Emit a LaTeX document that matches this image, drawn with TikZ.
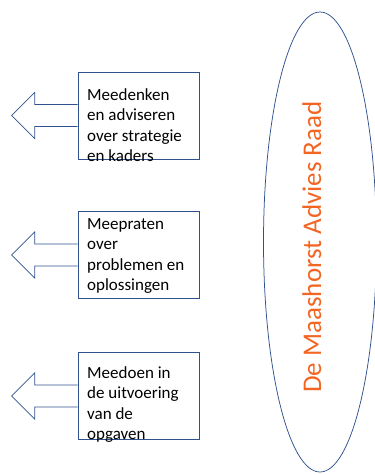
\documentclass[tikz,border=0pt]{standalone}
\usepackage{fontspec}
\setmainfont{Carlito}
\usetikzlibrary{shapes.geometric}
\definecolor{raadblue}{RGB}{47,82,143}
\definecolor{raadorange}{RGB}{242,101,34}
\tikzset{
	rolbox/.style={draw=raadblue, line width=0.75pt, minimum width=121pt, minimum height=87pt, inner sep=0pt},
	roltext/.style={anchor=north west, align=left, inner sep=0pt, font=\fontsize{17}{20.5}\selectfont},
	pijl/.style={draw=raadblue, line width=0.75pt}
}

\begin{document}
\begin{tikzpicture}[x=1pt, y=-1pt]
			%%%%% START %%%%%
			\useasboundingbox (0, 0) rectangle (375, 475);
			
			\node[ellipse, draw=raadblue, line width=0.75pt, minimum width=113pt, minimum height=460pt, inner sep=0pt] (raad) at (320, 242) {};
			\node[rotate=90, anchor=base, text=raadorange, font=\fontsize{27}{32}\selectfont] (naam) at (321, 247) {De Maashorst Advies Raad};
			
			\node[rolbox] (denken) at (138.5, 115.5) {};
			\node[roltext] (denkentekst) at (87, 88) {Meedenken\\en adviseren\\over strategie\\en kaders};
			\draw[pijl] (denken.west) ++(0, -11) -- ++(-43, 0) -- ++(0, -12) -- ++(-23, 23) -- ++(23, 23) -- ++(0, -12) -- ++(43, 0);
			
			\node[rolbox] (praten) at (138.5, 255) {};
			\node[roltext] (pratentekst) at (87, 218) {Meepraten\\over\\problemen en\\oplossingen};
			\draw[pijl] (praten.west) ++(0, -11) -- ++(-43, 0) -- ++(0, -12) -- ++(-23, 23) -- ++(23, 23) -- ++(0, -12) -- ++(43, 0);
			
			\node[rolbox] (doen) at (138.5, 396) {};
			\node[roltext] (doentekst) at (87, 366) {Meedoen in\\de uitvoering\\van de\\opgaven};
			\draw[pijl] (doen.west) ++(0, -11) -- ++(-43, 0) -- ++(0, -12) -- ++(-23, 23) -- ++(23, 23) -- ++(0, -12) -- ++(43, 0);
			
			%%%%% END %%%%%
		\end{tikzpicture}
\end{document}
